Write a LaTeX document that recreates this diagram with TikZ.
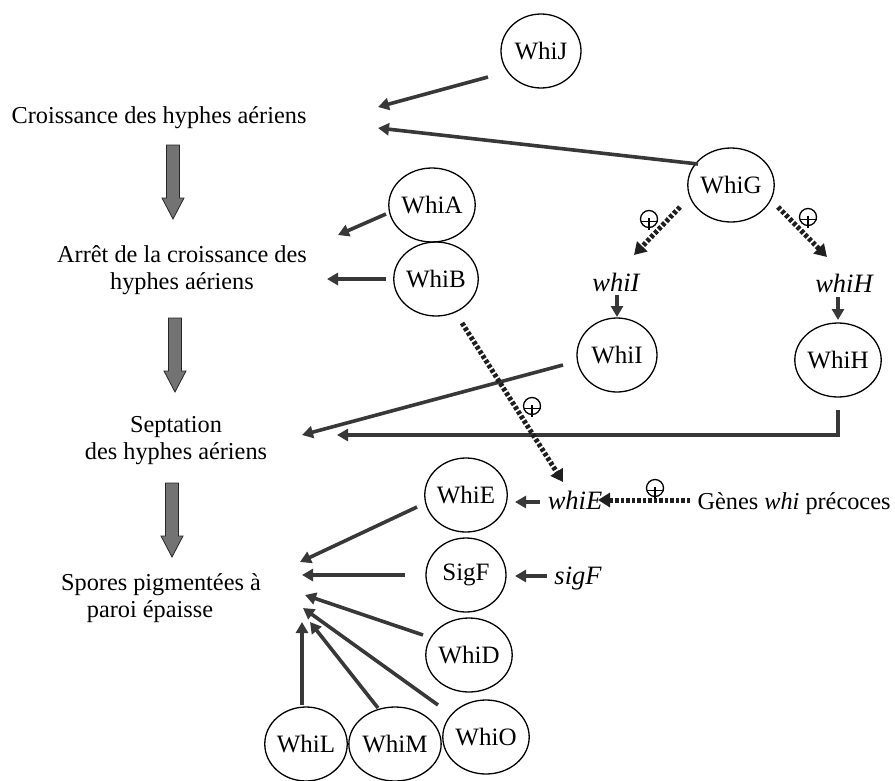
\documentclass[tikz,border=0pt]{standalone}
\usepackage{fontspec}
\setmainfont{Liberation Serif}
\usetikzlibrary{arrows.meta,shapes.geometric}
\begin{document}
\begin{tikzpicture}[x=1pt,y=-1pt,
  every node/.style={font=\fontsize{24.3}{27}\selectfont},
  gene/.style={ellipse,draw,line width=1.3pt,minimum width=80pt,minimum height=74pt,inner sep=0pt,font=\fontsize{25}{27}\selectfont},
  lab/.style={align=center,inner sep=0pt},
  ital/.style={font=\fontsize{26.5}{27}\selectfont\itshape,inner sep=0pt,anchor=base},
  arr/.style={line width=3.6pt,draw=black!78,-{Triangle[width=12pt,length=11pt]}},
  darr/.style={line width=5pt,draw=black!88,dash pattern=on 3.5pt off 2pt,-{Triangle[width=14pt,length=12pt]}},
  bigarrow/.pic={\filldraw[fill=black!55,draw=black!85,line width=0.8pt]
     (-6.5,0) -- (6.5,0) -- (6.5,53) -- (11,53) -- (0,74) -- (-11,53) -- (-6.5,53) -- cycle;},
  plus/.pic={\draw[line width=1.3pt] (0,0) circle (8.5);
     \draw[line width=1.3pt] (-8.5,2.5) -- (8.5,2.5) (0,-1) -- (0,11);}
]
\useasboundingbox (0,0) rectangle (895,780);

% process labels
\node[lab] (croiss) at (159,118) {Croissance des hyphes aériens};
\node[lab] (arret) at (182,270) {Arrêt de la croissance des\\hyphes aériens};
\node[lab] (sept) at (176,441) {Septation\\des hyphes aériens};
\node[lab] (spores) at (161,598) {Spores pigmentées à\\paroi épaisse\hspace*{22pt}};

% big arrows
\pic at (173,145) {bigarrow};
\pic at (175,318) {bigarrow};
\pic at (172,483) {bigarrow};

% proteins
\node[gene] (WhiJ) at (541,51) {WhiJ};
\node[gene] (WhiG) at (731,185) {WhiG};
\node[gene] (WhiA) at (432,205) {WhiA};
\node[gene] (WhiB) at (436,279) {WhiB};
\node[gene] (WhiI) at (617,355) {WhiI};
\node[gene] (WhiH) at (838,360) {WhiH};
\node[gene] (WhiE) at (466,495) {WhiE};
\node[gene] (SigF) at (466,575) {SigF};
\node[gene] (WhiD) at (469,655) {WhiD};
\node[gene] (WhiO) at (486,737) {WhiO};
\node[gene] (WhiM) at (395,744) {WhiM};
\node[gene] (WhiL) at (306,744) {WhiL};

% genes
\node[ital] (whiI) at (616,291) {whiI};
\node[ital] (whiH) at (844,292) {whiH};
\node[ital] (whiE) at (575,509) {whiE};
\node[ital] (sigF) at (578,584) {sigF};
\node[lab,anchor=base] (early) at (794,509) {Gènes \textit{whi} précoces};

% connector end points
\coordinate (cJ) at (378,107);
\coordinate (cG) at (378,128);
\coordinate (aA) at (338,235);
\coordinate (aB) at (327,279);
\coordinate (sI) at (302,435);
\coordinate (sH) at (337,435);
\coordinate (pE) at (300,562);
\coordinate (pF) at (302,575);
\coordinate (pD) at (305,595);
\coordinate (pO) at (303,608);
\coordinate (pM) at (310,622);
\coordinate (pL) at (302,622);

% solid arrows
\draw[arr] (488,77) -- (cJ);
\draw[arr] (698,164) -- (cG);
\draw[arr] (386,214) -- (aA);
\draw[arr] (386,279) -- (aB);
\draw[arr] (563,365) -- (sI);
\draw[arr] (838,410) |- (sH);
\draw[arr] (617,295) -- (617,317);
\draw[arr] (838,297) -- (838,320);
\draw[arr] (540,502) -- (515,502);
\draw[arr] (547,576) -- (515,576);
\draw[arr] (417,507) -- (pE);
\draw[arr] (405,575) -- (pF);
\draw[arr] (423,635) -- (pD);
\draw[arr] (438,705) -- (pO);
\draw[arr] (378,708) -- (pM);
\draw[arr] (302,705) -- (pL);

% dashed activation arrows
\draw[darr] (680,207) -- (634,255);
\draw[darr] (778,207) -- (827,257);
\draw[darr] (462,323) -- (563,482);
\draw[darr] (690,500) -- (598,500);
\pic at (649,219) {plus};
\pic at (808,217) {plus};
\pic at (532,406) {plus};
\pic at (655,488) {plus};
\end{tikzpicture}
\end{document}
